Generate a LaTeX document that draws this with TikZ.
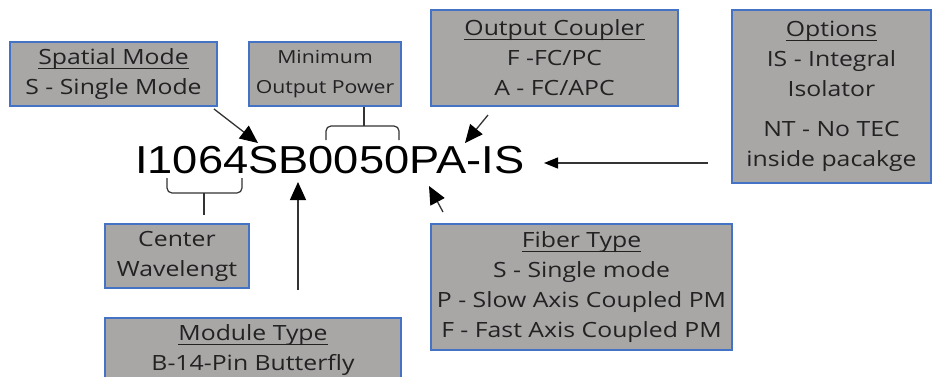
\documentclass[tikz,border=0pt]{standalone}
\usepackage{fontspec}
\setmainfont{Open Sans}[FakeStretch=1.18]
\newfontfamily\codefont{Liberation Sans}[FakeStretch=1.16]
\newsavebox{\hdrbox}
\newcommand{\hdr}[1]{\sbox{\hdrbox}{#1}\rlap{\rule[-4.5pt]{\wd\hdrbox}{1.1pt}}\usebox{\hdrbox}}
\usetikzlibrary{arrows.meta}
\definecolor{boxBlue}{HTML}{4472C4}
\definecolor{boxGray}{HTML}{A9A6A6}
\definecolor{boxText}{HTML}{222222}
\definecolor{lineGray}{HTML}{333333}

\begin{document}
\begin{tikzpicture}[x=1pt, y=-1pt, >={Triangle[length=18pt,width=16pt,color=black]}]
	\tikzset{infobox/.style={draw=boxBlue, line width=1.8pt, fill=boxGray, text=boxText,
		inner sep=0pt, align=center, font=\fontsize{21}{30}\selectfont},
		pointer/.style={->, line width=1.3pt, draw=lineGray},
		bracket/.style={line width=1.2pt, draw=lineGray, rounded corners=5pt}}
	\useasboundingbox (0,0) rectangle (933,376);
	\clip (0,0) rectangle (933,376);
	\node[infobox, minimum width=207pt, minimum height=64pt] (spatial) at (113.5,74)
		{\hdr{Spatial Mode}\\S - Single Mode};
	\node[infobox, minimum width=152pt, minimum height=64pt, font=\fontsize{18}{30}\selectfont] (power) at (325,74)
		{Minimum\\Output Power};
	\node[infobox, minimum width=247pt, minimum height=96pt] (coupler) at (554.5,58)
		{\hdr{Output Coupler}\\F -FC/PC\\A - FC/APC};
	\node[infobox, minimum width=199pt, minimum height=173pt] (options) at (831.5,96.5)
		{\hdr{Options}\\IS - Integral\\Isolator\\[10pt]NT - No TEC\\inside pacakge};
	\node[infobox, minimum width=144pt, minimum height=64pt] (wave) at (177,256)
		{Center\\Wavelengt};
	\node[infobox, minimum width=296pt, minimum height=65pt] (module) at (253,350.5)
		{\hdr{Module Type}\\B-14-Pin Butterfly};
	\node[infobox, minimum width=301pt, minimum height=126pt] (fiber) at (581.5,287)
		{\hdr{Fiber Type}\\S - Single mode\\P - Slow Axis Coupled PM\\F - Fast Axis Coupled PM};
	\node[anchor=base west, inner sep=0pt, font=\codefont\fontsize{39}{39}\selectfont] (code) at (135,173)
		{I1064SB0050PA-IS};
	\coordinate (spatialTip) at (258,143);
	\coordinate (couplerFrom) at (488,115);
	\coordinate (couplerTip) at (465,143);
	\coordinate (optionsFrom) at (708,163);
	\coordinate (optionsTip) at (544,163);
	\coordinate (moduleFrom) at (298,290);
	\coordinate (moduleTip) at (298,182);
	\coordinate (fiberFrom) at (443,212);
	\coordinate (fiberTip) at (429,186);
	\draw[pointer] (spatial.south east) ++(-4,2) -- (spatialTip);
	\draw[pointer] (couplerFrom) -- (couplerTip);
	\draw[pointer, >={Triangle[length=14pt,width=11pt,color=black]}] (optionsFrom) -- (optionsTip);
	\draw[pointer] (moduleFrom) -- (moduleTip);
	\draw[pointer] (fiberFrom) -- (fiberTip);
	\draw[bracket] (326,140) -- (326,126) -- (399,126) -- (399,140);
	\draw[bracket] (power.south) ++(39,0) -- (364,126);
	\draw[bracket] (167,178) -- (167,193) -- (242,193) -- (242,178);
	\draw[bracket] (204,193) -- (204,215);
\end{tikzpicture}
\end{document}
